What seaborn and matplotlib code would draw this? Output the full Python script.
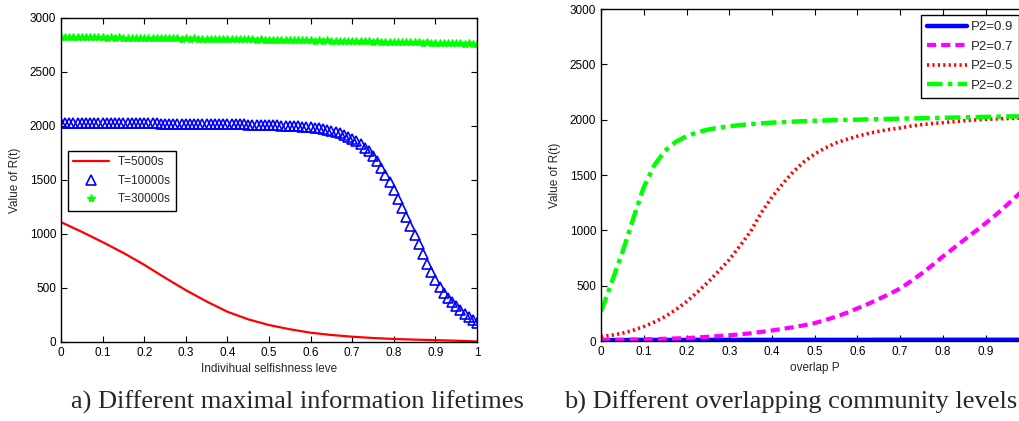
import numpy as np
import pandas as pd
import matplotlib
matplotlib.use("Agg")
import matplotlib.pyplot as plt
from matplotlib.ticker import FuncFormatter
import seaborn as sns

# ---------------- data: panel a ----------------
x_a = [round(i * 0.01, 2) for i in range(101)]
x_red = [round(i * 0.05, 2) for i in range(21)]
t5000 = [1110, 1020, 925, 825, 715, 595, 480, 375, 280, 210, 157,
         118, 86, 65, 49, 37, 28, 22, 17, 12, 5]
t10000 = [2032, 2031, 2031, 2030, 2030, 2030, 2029, 2029, 2029, 2028,
          2028, 2028, 2027, 2027, 2027, 2026, 2026, 2026, 2025, 2025,
          2025, 2024, 2024, 2024, 2023, 2023, 2023, 2022, 2022, 2022,
          2021, 2021, 2021, 2020, 2020, 2019, 2019, 2018, 2018, 2017,
          2017, 2016, 2016, 2015, 2014, 2013, 2012, 2011, 2010, 2009,
          2008, 2007, 2006, 2004, 2003, 2001, 1999, 1997, 1995, 1993,
          1990, 1985, 1978, 1972, 1964, 1955, 1944, 1932, 1917, 1900,
          1880, 1857, 1830, 1800, 1765, 1722, 1672, 1615, 1550, 1480,
          1405, 1325, 1243, 1160, 1075, 990, 905, 815, 725, 645,
          572, 508, 455, 408, 368, 330, 293, 260, 229, 200, 173]
t30000 = [2827, 2824, 2826, 2823, 2825, 2822, 2824, 2821, 2823, 2820,
          2822, 2819, 2821, 2818, 2820, 2817, 2819, 2816, 2818, 2815,
          2817, 2814, 2816, 2813, 2815, 2812, 2814, 2811, 2813, 2810,
          2812, 2809, 2811, 2808, 2810, 2807, 2809, 2806, 2808, 2805,
          2806, 2803, 2805, 2802, 2804, 2801, 2803, 2800, 2802, 2799,
          2800, 2797, 2799, 2796, 2798, 2795, 2797, 2794, 2796, 2793,
          2794, 2791, 2793, 2790, 2792, 2789, 2790, 2787, 2789, 2786,
          2787, 2784, 2786, 2783, 2785, 2782, 2783, 2780, 2782, 2779,
          2780, 2777, 2779, 2776, 2777, 2774, 2776, 2773, 2774, 2771,
          2772, 2769, 2770, 2767, 2768, 2765, 2766, 2763, 2764, 2760, 2756]

# ---------------- data: panel b ----------------
x_b = [round(i * 0.025, 3) for i in range(41)]
p09 = [8, 8, 8, 9, 9, 9, 9, 9, 9, 10, 10, 10, 10, 10, 10, 10, 10, 10, 10, 10,
       10, 10, 10, 10, 10, 10, 11, 11, 11, 11, 11, 11, 11, 11, 11, 11, 11, 11, 11, 11, 11]
p07 = [10, 11, 12, 13, 15, 17, 20, 23, 27, 32, 38, 45, 52, 60, 70, 82, 95, 110,
       125, 142, 162, 190, 220, 255, 295, 335, 380, 425, 475, 540, 610, 685, 765,
       840, 915, 990, 1065, 1145, 1230, 1320, 1410]
p05 = [40, 52, 70, 97, 130, 172, 220, 283, 355, 440, 530, 630, 735, 860, 990,
       1160, 1300, 1420, 1530, 1620, 1690, 1745, 1790, 1822, 1850, 1875, 1895,
       1912, 1925, 1942, 1955, 1965, 1973, 1982, 1990, 1997, 2003, 2007, 2010,
       2013, 2015]
p02 = [265, 530, 800, 1100, 1390, 1590, 1720, 1800, 1850, 1885, 1910, 1928,
       1940, 1950, 1960, 1967, 1973, 1978, 1982, 1986, 1990, 1993, 1996, 1998,
       2000, 2003, 2005, 2007, 2009, 2011, 2013, 2015, 2017, 2019, 2021, 2023,
       2025, 2027, 2029, 2030, 2032]

xticks_a = [round(i * 0.1, 1) for i in range(11)]
xticks_b = [round(i * 0.1, 1) for i in range(10)]
yticks = [0, 500, 1000, 1500, 2000, 2500, 3000]

xlabel_a = "Indivihual selfishness leve"
xlabel_b = "overlap P"
ylabel = "Value of R(t)"
caption_a = "a) Different maximal information lifetimes"
caption_b = "b) Different overlapping community levels"

sns.set_theme(style="ticks")
plt.rcParams["font.family"] = ["Liberation Sans", "DejaVu Sans"]
plt.rcParams.update({
    "xtick.direction": "in", "ytick.direction": "in",
    "xtick.top": True, "ytick.right": True,
    "xtick.major.size": 4, "ytick.major.size": 4,
    "xtick.major.width": 0.8, "ytick.major.width": 0.8,
    "axes.edgecolor": "black", "axes.linewidth": 1.0,
    "xtick.color": "black", "ytick.color": "black",
    "xtick.labelsize": 8.5, "ytick.labelsize": 8.5,
    "axes.labelsize": 8.5,
})

fig = plt.figure(figsize=(10.2, 4.21), dpi=100)
ax1 = fig.add_axes([61 / 1020, 79 / 421, 416 / 1020, 324 / 421])
ax2 = fig.add_axes([601 / 1020, 80 / 421, 427.5 / 1020, 332 / 421])

fmt = FuncFormatter(lambda v, p: f"{v:g}")

# panel a
df_red = pd.DataFrame({"x": x_red, "y": t5000})
df_blue = pd.DataFrame({"x": x_a, "y": t10000})
df_green = pd.DataFrame({"x": x_a, "y": t30000})
sns.lineplot(data=df_red, x="x", y="y", ax=ax1, color="#ff0000", lw=1.6, label="T=5000s")
sns.lineplot(data=df_blue, x="x", y="y", ax=ax1, color="#0000ff", ls="", marker="^",
             ms=7, mfc="none", mec="#0000ff", mew=1.2, label="T=10000s")
sns.lineplot(data=df_green, x="x", y="y", ax=ax1, color="#00ff00", ls="", marker="*",
             ms=6, mfc="#00ff00", mec="#00ff00", mew=1.0, label="T=30000s")
ax1.set_xlim(0, 1)
ax1.set_ylim(0, 3000)
ax1.set_xticks(xticks_a)
ax1.set_yticks(yticks)
ax1.xaxis.set_major_formatter(fmt)
ax1.set_xlabel(xlabel_a, labelpad=3)
ax1.set_ylabel(ylabel, labelpad=6)
leg1 = ax1.legend(loc="upper left", bbox_to_anchor=(68 / 1020, 270 / 421),
                  bbox_transform=fig.transFigure, borderaxespad=0, fancybox=False,
                  edgecolor="black", framealpha=1, fontsize=8.5, handlelength=3.0,
                  labelspacing=0.55, borderpad=0.45, handletextpad=0.8)
leg1.get_frame().set_linewidth(1.0)

# panel b
for ys, col, ls, lw, lab in [(p09, "#0000ff", "-", 3.2, "P2=0.9"),
                             (p07, "#ff00ff", (0, (2.2, 1.2)), 3.0, "P2=0.7"),
                             (p05, "#ff0000", (0, (0.6, 0.9)), 2.6, "P2=0.5"),
                             (p02, "#00ff00", (0, (3.5, 1.2, 1.0, 1.2)), 3.2, "P2=0.2")]:
    d = pd.DataFrame({"x": x_b, "y": ys})
    sns.lineplot(data=d, x="x", y="y", ax=ax2, color=col, lw=lw, ls=ls, label=lab)
ax2.set_xlim(0, 1)
ax2.set_ylim(0, 3000)
ax2.set_xticks(xticks_b)
ax2.set_yticks(yticks)
ax2.xaxis.set_major_formatter(fmt)
ax2.set_xlabel(xlabel_b, labelpad=3)
ax2.set_ylabel(ylabel, labelpad=6)
leg2 = ax2.legend(loc="upper right", bbox_to_anchor=(1019 / 1020, 406 / 421),
                  bbox_transform=fig.transFigure, borderaxespad=0, fancybox=False,
                  edgecolor="black", framealpha=1, fontsize=9.5, handlelength=3.0,
                  labelspacing=0.55, borderpad=0.45, handletextpad=0.3)
leg2.get_frame().set_linewidth(1.0)

fig.text(297 / 1020, 12 / 421, caption_a, ha="center", va="baseline",
         family=["Liberation Serif", "DejaVu Serif"], fontsize=19)
fig.text(791 / 1020, 12 / 421, caption_b, ha="center", va="baseline",
         family=["Liberation Serif", "DejaVu Serif"], fontsize=19)

fig.savefig("out.png", dpi=100)
